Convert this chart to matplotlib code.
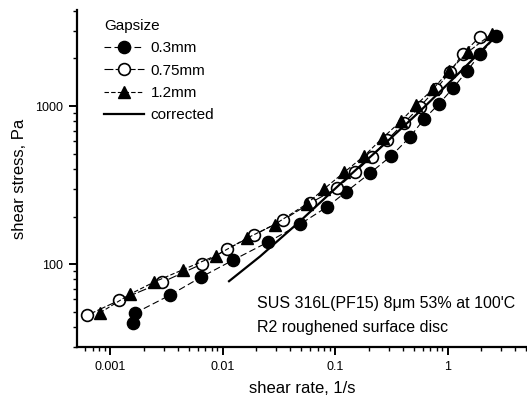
import numpy as np
import matplotlib
matplotlib.use("Agg")
import matplotlib.pyplot as plt

plt.rcParams['font.family'] = ['Liberation Sans', 'DejaVu Sans']

# Gapsize 0.3 mm (filled circles)
rate_03 = [0.0016, 0.00167, 0.00342, 0.00644, 0.0124, 0.0254, 0.0489, 0.0849,
           0.125, 0.205, 0.315, 0.464, 0.618, 0.839, 1.12, 1.49, 1.95, 2.70]
stress_03 = [42.4, 49, 63.7, 82.7, 106, 138, 179, 230,
             286, 377, 483, 637, 828, 1031, 1300, 1667, 2133, 2773]

# Gapsize 0.75 mm (open circles)
rate_075 = [0.000628, 0.00121, 0.00288, 0.00653, 0.0109, 0.0191, 0.0345, 0.060,
            0.104, 0.151, 0.213, 0.290, 0.410, 0.570, 0.791, 1.05, 1.37, 1.95]
stress_075 = [47.5, 59.1, 76.6, 100, 124, 153, 190, 243,
              303, 382, 479, 609, 780, 993, 1282, 1641, 2148, 2755]

# Gapsize 1.2 mm (filled triangles)
rate_12 = [0.000815, 0.00151, 0.00246, 0.00446, 0.00867, 0.0165, 0.029, 0.0558,
           0.0798, 0.120, 0.181, 0.267, 0.386, 0.525, 0.743, 1.03, 1.52, 2.49]
stress_12 = [49.2, 64.6, 77, 92.3, 113, 146, 178, 240,
             299, 380, 483, 632, 804, 1014, 1282, 1667, 2198, 2877]

# corrected curve
rate_corr = [0.01143, 0.0216, 0.0489, 0.111, 0.251, 0.570, 1.29, 2.93]
stress_corr = [78, 112, 187, 321, 542, 929, 1641, 2937]

fig = plt.figure(figsize=(5.27, 3.96), dpi=100)
ax = fig.add_axes([0.1461, 0.1237, 0.854, 0.851])

ax.plot(rate_03, stress_03, color='black', lw=0.8, dashes=(6, 3),
        marker='o', ms=8.8, mfc='black', mec='black', label='0.3mm')
ax.plot(rate_075, stress_075, color='black', lw=0.8, dashes=(8, 2),
        marker='o', ms=8.5, mfc='white', mec='black', mew=1.2, label='0.75mm')
ax.plot(rate_12, stress_12, color='black', lw=0.8, dashes=(4, 2),
        marker='^', ms=8.8, mfc='black', mec='black', label='1.2mm')
ax.plot(rate_corr, stress_corr, color='black', lw=1.6, label='corrected')

ax.set_xscale('log')
ax.set_yscale('log')
ax.set_xlim(0.000509, 5.09)
ax.set_ylim(29.9, 4052)

ax.set_xticks([0.001, 0.01, 0.1, 1])
ax.set_xticklabels(['0.001', '0.01', '0.1', '1'])
ax.set_yticks([100, 1000])
ax.set_yticklabels(['100', '1000'])
ax.yaxis.set_minor_formatter(matplotlib.ticker.NullFormatter())
ax.xaxis.set_minor_formatter(matplotlib.ticker.NullFormatter())

for s in ['top', 'right']:
    ax.spines[s].set_visible(False)
for s in ['left', 'bottom']:
    ax.spines[s].set_linewidth(1.6)
ax.tick_params(which='major', direction='out', length=6, width=1.4, labelsize=9, pad=4)
ax.tick_params(which='minor', direction='out', length=3, width=1.0)

ax.set_xlabel('shear rate, 1/s', fontsize=12, labelpad=6)
ax.set_ylabel('shear stress, Pa', fontsize=12, labelpad=6)

ax.text(0.0203, 56, "SUS 316L(PF15) 8\u03bcm 53% at 100'C", fontsize=11.5, va='center')
ax.text(0.0203, 39.9, "R2 roughened surface disc", fontsize=11.5, va='center')

leg = ax.legend(loc='upper left', bbox_to_anchor=(0.03, 1.015), frameon=False,
                title='Gapsize', fontsize=11, title_fontsize=11, handlelength=2.6,
                handletextpad=0.45, labelspacing=0.55, alignment='left')

fig.savefig('out.png', dpi=100)
